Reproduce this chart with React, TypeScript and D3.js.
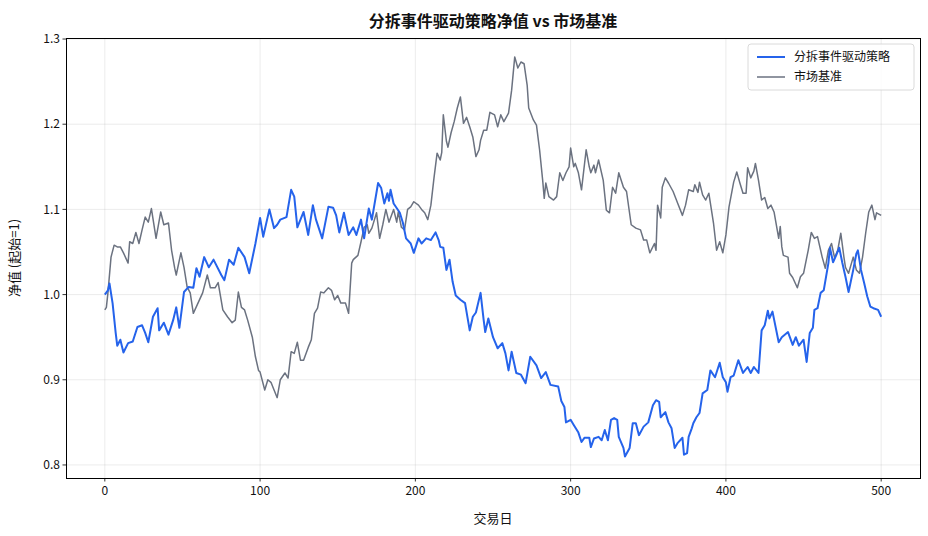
import React from "react";
import * as d3 from "d3";

// [trading day, net value] samples for each series
const strategyNav: [number, number][] = [
  [0, 1.0], [2, 1.005], [3, 1.013], [5, 0.99], [7, 0.955], [8, 0.94], [10, 0.947], [12, 0.932],
  [15, 0.943], [18, 0.945], [21, 0.962], [24, 0.964], [26, 0.955], [28, 0.944], [31, 0.974],
  [34, 0.984], [35, 0.958], [38, 0.967], [41, 0.953], [44, 0.97], [46, 0.985], [48, 0.961],
  [51, 1.003], [54, 1.009], [57, 1.008], [59, 1.031], [61, 1.021], [64, 1.044], [67, 1.032],
  [70, 1.041], [75, 1.023], [77, 1.017], [80, 1.041], [83, 1.035], [86, 1.055], [90, 1.044],
  [93, 1.025], [97, 1.06], [100, 1.09], [102, 1.068], [106, 1.1], [109, 1.078], [111, 1.082],
  [113, 1.088], [117, 1.091], [120, 1.123], [122, 1.115], [124, 1.079], [128, 1.097], [131, 1.07],
  [134, 1.105], [136, 1.088], [140, 1.066], [144, 1.103], [147, 1.102], [149, 1.093], [151, 1.073],
  [154, 1.096], [157, 1.07], [160, 1.079], [162, 1.07], [165, 1.088], [167, 1.066], [170, 1.101],
  [172, 1.088], [176, 1.131], [178, 1.125], [180, 1.107], [182, 1.119], [183, 1.11], [184, 1.123],
  [186, 1.107], [190, 1.096], [192, 1.084], [194, 1.066], [197, 1.06], [199, 1.049], [202, 1.066],
  [204, 1.06], [207, 1.066], [210, 1.064], [213, 1.073], [215, 1.064], [216, 1.056], [218, 1.055],
  [220, 1.029], [222, 1.041], [224, 1.015], [226, 0.999], [229, 0.994], [232, 0.99], [235, 0.958],
  [237, 0.974], [239, 0.979], [242, 1.002], [244, 0.97], [245, 0.956], [247, 0.972], [250, 0.95],
  [253, 0.937], [256, 0.943], [258, 0.931], [260, 0.911], [262, 0.933], [265, 0.908], [268, 0.906],
  [271, 0.896], [274, 0.927], [278, 0.917], [281, 0.902], [284, 0.909], [287, 0.894], [292, 0.892],
  [294, 0.875], [296, 0.868], [297, 0.85], [300, 0.853], [302, 0.847], [305, 0.838], [307, 0.827],
  [309, 0.832], [312, 0.832], [313, 0.821], [315, 0.831], [318, 0.833], [320, 0.829], [322, 0.841],
  [324, 0.829], [326, 0.853], [328, 0.855], [330, 0.853], [331, 0.833], [334, 0.82], [335, 0.81],
  [338, 0.82], [340, 0.849], [342, 0.849], [344, 0.835], [347, 0.845], [350, 0.85], [353, 0.87],
  [355, 0.876], [357, 0.874], [358, 0.856], [361, 0.862], [363, 0.85], [365, 0.843], [367, 0.82],
  [369, 0.826], [372, 0.832], [373, 0.812], [375, 0.814], [376, 0.833], [378, 0.843], [379, 0.849],
  [381, 0.856], [383, 0.861], [385, 0.884], [388, 0.888], [390, 0.911], [393, 0.903], [396, 0.92],
  [398, 0.903], [400, 0.897], [401, 0.886], [403, 0.903], [405, 0.905], [408, 0.923], [411, 0.908],
  [414, 0.915], [416, 0.908], [418, 0.915], [421, 0.908], [423, 0.958], [425, 0.964], [427, 0.981],
  [428, 0.972], [430, 0.98], [434, 0.944], [436, 0.95], [440, 0.956], [443, 0.941], [445, 0.95],
  [447, 0.94], [450, 0.947], [452, 0.921], [454, 0.955], [456, 0.961], [457, 0.982], [459, 0.984],
  [461, 1.002], [463, 1.005], [466, 1.037], [467, 1.055], [469, 1.038], [471, 1.046], [473, 1.055],
  [475, 1.037], [477, 1.021], [479, 1.003], [482, 1.029], [484, 1.048], [485, 1.052], [487, 1.029],
  [489, 1.014], [491, 0.998], [493, 0.986], [495, 0.984], [498, 0.982], [500, 0.974],
];

const benchmarkNav: [number, number][] = [
  [0, 0.982], [1, 0.985], [2, 1.002], [4, 1.044], [6, 1.058], [8, 1.056], [10, 1.056], [12, 1.049],
  [15, 1.037], [16, 1.062], [18, 1.06], [20, 1.073], [22, 1.06], [24, 1.076], [26, 1.091], [28, 1.085],
  [30, 1.101], [33, 1.066], [36, 1.097], [38, 1.082], [41, 1.084], [43, 1.052], [45, 1.031], [46, 1.023],
  [49, 1.049], [51, 1.032], [53, 1.009], [55, 1.002], [57, 0.978], [60, 0.99], [63, 1.002], [66, 1.023],
  [68, 1.008], [71, 1.008], [73, 1.014], [76, 0.982], [79, 0.974], [82, 0.967], [84, 0.97], [86, 1.003],
  [88, 0.985], [90, 0.982], [92, 0.97], [95, 0.95], [97, 0.927], [99, 0.911], [100, 0.909], [103, 0.888],
  [105, 0.9], [107, 0.897], [109, 0.888], [111, 0.879], [113, 0.9], [116, 0.908], [118, 0.902],
  [120, 0.933], [122, 0.931], [124, 0.944], [126, 0.923], [128, 0.923], [131, 0.938], [133, 0.947],
  [135, 0.978], [137, 0.984], [139, 1.003], [141, 1.002], [144, 1.008], [146, 1.005], [148, 0.994],
  [150, 0.999], [152, 0.99], [155, 0.99], [157, 0.978], [159, 1.037], [160, 1.041], [163, 1.046],
  [165, 1.062], [167, 1.079], [169, 1.082], [170, 1.072], [172, 1.078], [175, 1.096], [177, 1.066],
  [179, 1.082], [181, 1.1], [183, 1.085], [186, 1.1], [188, 1.085], [189, 1.097], [191, 1.079],
  [193, 1.076], [195, 1.1], [197, 1.103], [199, 1.109], [202, 1.105], [204, 1.1], [206, 1.096],
  [208, 1.088], [210, 1.105], [212, 1.137], [214, 1.166], [216, 1.158], [217, 1.167], [218, 1.211],
  [220, 1.18], [221, 1.173], [223, 1.19], [225, 1.203], [227, 1.219], [229, 1.232], [231, 1.201],
  [233, 1.208], [235, 1.197], [237, 1.185], [239, 1.162], [241, 1.17], [242, 1.181], [244, 1.193],
  [246, 1.193], [248, 1.214], [251, 1.211], [253, 1.197], [255, 1.211], [257, 1.203], [260, 1.213],
  [262, 1.24], [264, 1.279], [266, 1.266], [268, 1.273], [270, 1.271], [272, 1.246], [273, 1.219],
  [276, 1.205], [278, 1.199], [280, 1.17], [282, 1.134], [283, 1.113], [284, 1.131], [286, 1.115],
  [289, 1.111], [291, 1.115], [293, 1.143], [295, 1.134], [297, 1.143], [299, 1.15], [300, 1.172],
  [302, 1.15], [303, 1.154], [305, 1.143], [307, 1.123], [310, 1.17], [312, 1.15], [313, 1.143],
  [315, 1.152], [316, 1.143], [318, 1.158], [321, 1.134], [323, 1.099], [325, 1.096], [327, 1.126],
  [329, 1.119], [331, 1.143], [334, 1.126], [336, 1.121], [339, 1.082], [342, 1.078], [345, 1.076],
  [347, 1.064], [349, 1.064], [351, 1.049], [354, 1.06], [355, 1.052], [356, 1.105], [358, 1.09],
  [359, 1.126], [361, 1.137], [363, 1.131], [366, 1.121], [369, 1.107], [372, 1.093], [374, 1.105],
  [376, 1.123], [379, 1.121], [380, 1.129], [382, 1.12], [383, 1.132], [385, 1.117], [387, 1.111],
  [389, 1.119], [392, 1.084], [394, 1.052], [396, 1.062], [398, 1.049], [400, 1.07], [402, 1.103],
  [405, 1.132], [407, 1.144], [409, 1.131], [411, 1.119], [413, 1.119], [414, 1.149], [416, 1.137],
  [418, 1.145], [419, 1.154], [421, 1.134], [423, 1.111], [425, 1.114], [427, 1.101], [429, 1.105],
  [431, 1.097], [434, 1.066], [435, 1.08], [436, 1.056], [437, 1.046], [440, 1.044], [441, 1.025],
  [443, 1.02], [446, 1.008], [448, 1.021], [450, 1.025], [453, 1.052], [455, 1.073], [457, 1.066],
  [459, 1.068], [462, 1.044], [464, 1.031], [466, 1.052], [468, 1.06], [470, 1.043], [472, 1.052],
  [474, 1.072], [476, 1.044], [477, 1.032], [479, 1.025], [482, 1.044], [484, 1.029], [486, 1.025],
  [488, 1.044], [490, 1.072], [492, 1.097], [494, 1.105], [496, 1.088], [497, 1.096], [500, 1.093],
];

const seriesNames = ["分拆事件驱动策略", "市场基准"];
const seriesColors = ["#2563eb", "#6b7280"];
const xTicks = [0, 100, 200, 300, 400, 500];
const yTicks = [0.8, 0.9, 1.0, 1.1, 1.2, 1.3];

const W = 928;
const H = 536;
const margin = { top: 38, right: 8, bottom: 58, left: 66 };
const font = "'Noto Sans CJK SC', 'Noto Sans', sans-serif";

export default function App() {
  const iw = W - margin.left - margin.right;
  const ih = H - margin.top - margin.bottom;

  const x = d3.scaleLinear().domain([-25, 525]).range([0, iw]);
  const y = d3.scaleLinear().domain([0.7847, 1.3012]).range([ih, 0]);

  const line = d3
    .line<[number, number]>()
    .x(d => x(d[0]))
    .y(d => y(d[1]));

  const series = [strategyNav, benchmarkNav];
  const widths = [2, 1.5];

  return (
    <svg
      width={W}
      height={H}
      style={{ position: "fixed", left: 0, top: 0, background: "#fff", fontFamily: font }}
    >
      <text x={margin.left + iw / 2} y={27} textAnchor="middle" fontSize={16} fontWeight="bold" fill="#111">
        分拆事件驱动策略净值 vs 市场基准
      </text>
      <g transform={`translate(${margin.left},${margin.top})`}>
        {/* grid */}
        {xTicks.map(t => (
          <line key={"gx" + t} x1={x(t)} x2={x(t)} y1={0} y2={ih} stroke="#b0b0b0" strokeOpacity={0.3} strokeWidth={0.8} />
        ))}
        {yTicks.map(t => (
          <line key={"gy" + t} x1={0} x2={iw} y1={y(t)} y2={y(t)} stroke="#b0b0b0" strokeOpacity={0.3} strokeWidth={0.8} />
        ))}

        {/* benchmark drawn first, strategy on top */}
        {[1, 0].map(i => (
          <path
            key={seriesNames[i]}
            d={line(series[i]) || ""}
            fill="none"
            stroke={seriesColors[i]}
            strokeWidth={widths[i]}
            strokeLinejoin="round"
          />
        ))}

        <rect x={0} y={0} width={iw} height={ih} fill="none" stroke="#000" strokeWidth={1} shapeRendering="crispEdges" />

        {/* x axis */}
        {xTicks.map(t => (
          <g key={"tx" + t} transform={`translate(${x(t)},${ih})`}>
            <line y2={3.5} stroke="#000" strokeWidth={0.8} />
            <text y={17} textAnchor="middle" fontSize={12} fill="#111">{t}</text>
          </g>
        ))}
        {/* y axis */}
        {yTicks.map(t => (
          <g key={"ty" + t} transform={`translate(0,${y(t)})`}>
            <line x2={-3.5} stroke="#000" strokeWidth={0.8} />
            <text x={-6} dy="0.35em" textAnchor="end" fontSize={12} fill="#111">{t.toFixed(1)}</text>
          </g>
        ))}

        <text x={iw / 2} y={ih + 45} textAnchor="middle" fontSize={13} fill="#111">交易日</text>
        <text
          transform={`translate(${-47},${ih / 2}) rotate(-90)`}
          textAnchor="middle"
          fontSize={13}
          fill="#111"
        >
          净值 (起始=1)
        </text>

        {/* legend */}
        <g transform={`translate(${iw - 172},${6})`}>
          <rect width={166} height={46} rx={3} fill="#fff" fillOpacity={0.8} stroke="#d0d0d0" strokeWidth={0.8} />
          {seriesNames.map((name, i) => (
            <g key={name} transform={`translate(9,${13 + i * 20})`}>
              <line x1={0} x2={28} stroke={seriesColors[i]} strokeWidth={widths[i]} />
              <text x={37} dy="0.35em" fontSize={12} fill="#111">{name}</text>
            </g>
          ))}
        </g>
      </g>
    </svg>
  );
}
